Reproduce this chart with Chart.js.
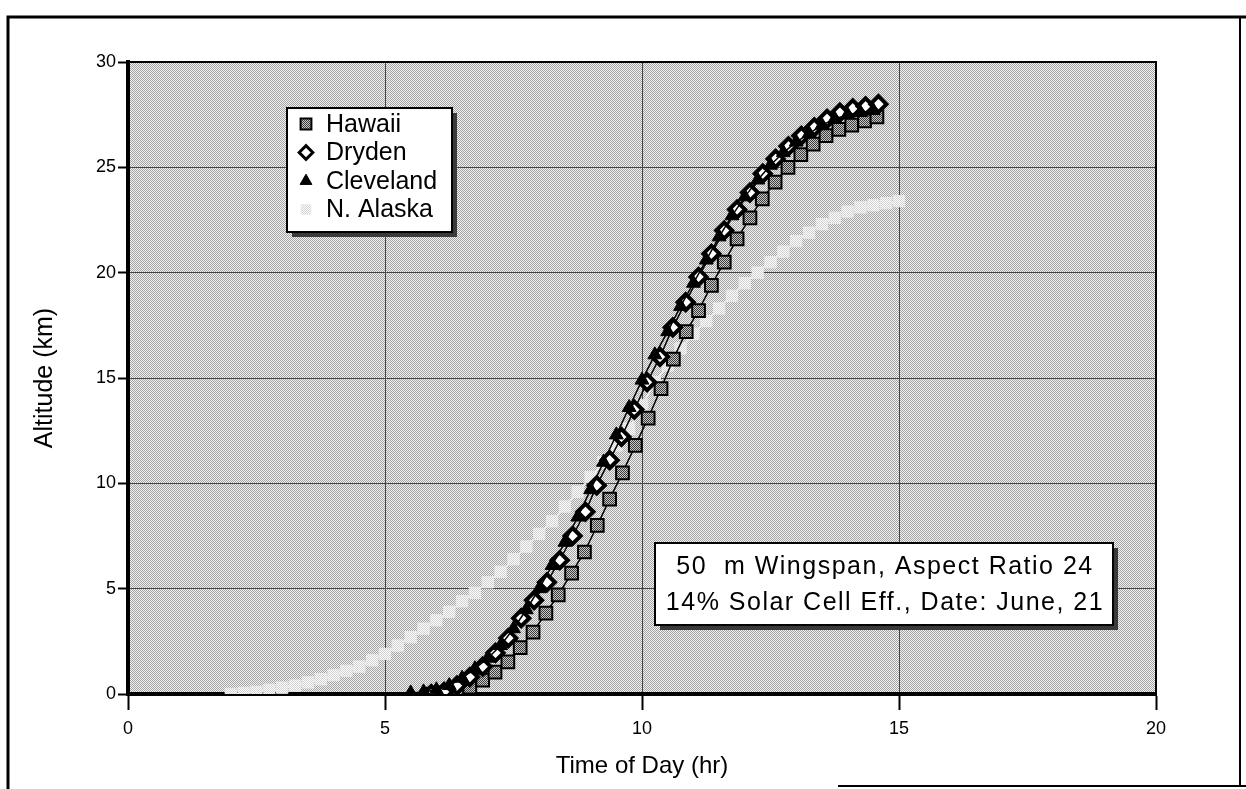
<!DOCTYPE html>
<html>
<head>
<meta charset="utf-8">
<script src="https://cdn.jsdelivr.net/npm/chart.js@4.4.1/dist/chart.umd.min.js"></script>
<style>
html, body { margin: 0; padding: 0; background: #fff; }
#wrap { width: 1246px; height: 789px; }
</style>
</head>
<body>
<div id="wrap"><canvas id="myChart" width="1246" height="789"></canvas></div>
<script>
// DATOS (hora del dia -> altitud en km)

const hawaiiHoras = [5.9, 6.15, 6.4, 6.65, 6.9, 7.14, 7.39, 7.63, 7.88, 8.13, 8.37, 8.63, 8.88, 9.13, 9.37, 9.62, 9.87, 10.12, 10.37, 10.61, 10.86, 11.1, 11.35, 11.6, 11.85, 12.1, 12.34, 12.59, 12.84, 13.09, 13.33, 13.58, 13.83, 14.08, 14.33, 14.57];
const hawaiiAltitud = [0, 0.05, 0.15, 0.33, 0.66, 1.04, 1.52, 2.2, 2.94, 3.84, 4.7, 5.74, 6.74, 8.0, 9.25, 10.5, 11.8, 13.1, 14.5, 15.9, 17.2, 18.2, 19.4, 20.5, 21.6, 22.6, 23.5, 24.3, 25.0, 25.6, 26.1, 26.5, 26.8, 27.0, 27.2, 27.4];

const drydenHoras = [5.9, 6.15, 6.4, 6.65, 6.9, 7.15, 7.4, 7.65, 7.9, 8.15, 8.4, 8.65, 8.9, 9.12, 9.37, 9.6, 9.85, 10.1, 10.35, 10.6, 10.85, 11.1, 11.35, 11.6, 11.85, 12.1, 12.35, 12.6, 12.85, 13.1, 13.35, 13.6, 13.85, 14.1, 14.35, 14.6];
const drydenAltitud = [0, 0.1, 0.4, 0.8, 1.3, 1.95, 2.65, 3.6, 4.45, 5.3, 6.35, 7.5, 8.65, 9.9, 11.1, 12.2, 13.5, 14.8, 16.0, 17.4, 18.6, 19.8, 20.9, 22.0, 23.0, 23.8, 24.7, 25.4, 26.0, 26.5, 26.9, 27.3, 27.6, 27.8, 27.9, 28.0];

const clevelandHoras = [5.5, 5.75, 6.0, 6.25, 6.5, 6.75, 7.0, 7.25, 7.5, 7.75, 8.0, 8.25, 8.5, 8.75, 9.0, 9.25, 9.5, 9.75, 10.0, 10.25, 10.5, 10.75, 11.0, 11.25, 11.5, 11.75, 12.0, 12.25, 12.5, 12.75, 13.0, 13.25, 13.5, 13.75, 14.0, 14.25, 14.5];
const clevelandAltitud = [0.05, 0.1, 0.2, 0.4, 0.75, 1.2, 1.7, 2.3, 3.1, 4.0, 5.0, 6.1, 7.2, 8.4, 9.7, 11.0, 12.3, 13.6, 14.9, 16.1, 17.2, 18.4, 19.5, 20.6, 21.7, 22.7, 23.6, 24.4, 25.1, 25.7, 26.2, 26.6, 27.0, 27.3, 27.5, 27.6, 27.7];

const alaskaHoras = [2.0, 2.25, 2.5, 2.75, 3.0, 3.25, 3.5, 3.75, 4.0, 4.25, 4.5, 4.75, 5.0, 5.25, 5.5, 5.75, 6.0, 6.25, 6.5, 6.75, 7.0, 7.25, 7.5, 7.75, 8.0, 8.25, 8.5, 8.75, 9.0, 9.25, 9.5, 9.75, 10.0, 10.25, 10.5, 10.75, 11.0, 11.25, 11.5, 11.75, 12.0, 12.25, 12.5, 12.75, 13.0, 13.25, 13.5, 13.75, 14.0, 14.25, 14.5, 14.75, 15.0];
const alaskaAltitud = [0, 0.05, 0.1, 0.2, 0.3, 0.4, 0.55, 0.7, 0.9, 1.1, 1.3, 1.6, 1.9, 2.3, 2.7, 3.1, 3.5, 3.9, 4.4, 4.8, 5.3, 5.8, 6.4, 7.0, 7.6, 8.2, 8.9, 9.6, 10.3, 11.0, 11.8, 12.6, 13.7, 14.8, 15.6, 16.4, 17.1, 17.7, 18.3, 18.9, 19.5, 20.0, 20.5, 21.0, 21.5, 21.9, 22.3, 22.6, 22.9, 23.1, 23.2, 23.3, 23.4];

const nombresSeries = ['Hawaii', 'Dryden', 'Cleveland', 'N. Alaska'];
const ticksX = [0, 5, 10, 15, 20];
const ticksY = [0, 5, 10, 15, 20, 25, 30];
const notaTexto = ['50  m Wingspan, Aspect Ratio 24', '14% Solar Cell Eff., Date: June, 21'];

const fuente = "'Liberation Sans', Arial, Helvetica, sans-serif";

function puntos(horas, alt) {
    return horas.map((h, i) => ({ x: h, y: alt[i] }));
}

// patron tramado del fondo
function crearTrama(claro, oscuro) {
    const c = document.createElement('canvas');
    c.width = 2; c.height = 2;
    const g = c.getContext('2d');
    g.fillStyle = claro; g.fillRect(0, 0, 2, 2);
    g.fillStyle = oscuro; g.fillRect(0, 0, 1, 1); g.fillRect(1, 1, 1, 1);
    return g.createPattern(c, 'repeat');
}

const ctx = document.getElementById('myChart').getContext('2d');
const tramaFondo = crearTrama('#f0f0f0', '#a4a4a4');
const tramaCuadro = crearTrama('#c8c8c8', '#3c3c3c');
const tramaAlaska = crearTrama('#ffffff', '#d0d0d0');

const estilos = [
    { pointStyle: 'rect', radius: 9, bg: tramaCuadro, border: '#000', bw: 2, line: '#000', order: 2 },
    { pointStyle: 'rectRot', radius: 8, bg: '#fff', border: '#000', bw: 4, line: '#000', order: 1 },
    { pointStyle: 'triangle', radius: 8, bg: '#000', border: '#000', bw: 1, line: '#000', order: 0 },
    { pointStyle: 'rect', radius: 8, bg: tramaAlaska, border: '#e8e8e8', bw: 1, line: '#f0f0f0', order: 3 }
];

const seriesData = [
    puntos(hawaiiHoras, hawaiiAltitud),
    puntos(drydenHoras, drydenAltitud),
    puntos(clevelandHoras, clevelandAltitud),
    puntos(alaskaHoras, alaskaAltitud)
];

const datasets = seriesData.map((d, i) => ({
    label: nombresSeries[i],
    data: d,
    showLine: true,
    borderColor: estilos[i].line,
    borderWidth: 1.5,
    pointStyle: estilos[i].pointStyle,
    pointRadius: estilos[i].radius,
    pointBackgroundColor: estilos[i].bg,
    pointBorderColor: estilos[i].border,
    pointBorderWidth: estilos[i].bw,
    order: estilos[i].order
}));

function caja(c, x, y, w, h) {
    c.fillStyle = '#3a3a3a';
    c.fillRect(x + 5, y + 5, w, h);
    c.fillStyle = '#fff';
    c.fillRect(x, y, w, h);
    c.strokeStyle = '#000';
    c.lineWidth = 2;
    c.strokeRect(x, y, w, h);
}

const decoracion = {
    id: 'decoracion',
    beforeDraw(chart) {
        const c = chart.ctx;
        const a = chart.chartArea;
        c.save();
        c.fillStyle = '#fff';
        c.fillRect(0, 0, chart.width, chart.height);
        c.fillStyle = tramaFondo;
        c.fillRect(a.left, a.top, a.right - a.left, a.bottom - a.top);
        c.restore();
    },
    afterDraw(chart) {
        const c = chart.ctx;
        const a = chart.chartArea;
        c.save();
        // borde superior y derecho del area
        c.strokeStyle = '#000';
        c.lineWidth = 2;
        c.beginPath();
        c.moveTo(a.left, a.top); c.lineTo(a.right, a.top); c.lineTo(a.right, a.bottom);
        c.stroke();
        // marco de la figura
        c.lineWidth = 3;
        c.beginPath();
        c.moveTo(8, 789); c.lineTo(8, 17); c.lineTo(1246, 17);
        c.stroke();
        c.lineWidth = 2;
        c.beginPath();
        c.moveTo(1240, 17); c.lineTo(1240, 786);
        c.moveTo(838, 786); c.lineTo(1246, 786);
        c.stroke();

        // leyenda
        caja(c, 287, 108, 165, 124);
        c.font = '25px ' + fuente;
        c.textBaseline = 'middle';
        c.textAlign = 'left';
        nombresSeries.forEach((n, i) => {
            const y = 124 + i * 28.5;
            const e = estilos[i];
            c.fillStyle = e.bg;
            c.strokeStyle = e.border;
            c.lineWidth = Math.min(e.bw, 3);
            Chart.helpers.drawPoint(c, { pointStyle: e.pointStyle, radius: e.radius * 0.85, rotation: 0, borderWidth: c.lineWidth }, 306, y);
            c.fillStyle = '#000';
            c.fillText(n, 326, y + 1);
        });

        // nota
        caja(c, 655, 543, 458, 82);
        c.fillStyle = '#000';
        c.font = '25px ' + fuente;
        c.textAlign = 'center';
        if ('letterSpacing' in c) c.letterSpacing = '1.5px';
        c.fillText(notaTexto[0], 885, 567);
        c.fillText(notaTexto[1], 885, 603);
        c.restore();
    }
};

const myChart = new Chart(ctx, {
    type: 'scatter',
    data: { datasets },
    plugins: [decoracion],
    options: {
        responsive: false,
        animation: false,
        devicePixelRatio: 1,
        layout: { padding: { top: 62, right: 90, left: 0, bottom: 0 } },
        plugins: { legend: { display: false }, tooltip: { enabled: false } },
        scales: {
            x: {
                type: 'linear',
                min: 0, max: 20,
                afterFit: (s) => { s.height = 95; },
                afterBuildTicks: (s) => { s.ticks = ticksX.map(v => ({ value: v })); },
                ticks: { color: '#000', padding: 8, font: { family: fuente, size: 18 } },
                grid: { color: '#444', lineWidth: 1, tickLength: 16, tickColor: '#000', tickWidth: 2 },
                border: { display: true, color: '#000', width: 4 },
                title: { display: true, text: 'Time of Day (hr)', color: '#000', font: { family: fuente, size: 24 }, padding: { top: 0, bottom: 8 } }
            },
            y: {
                type: 'linear',
                min: 0, max: 30,
                afterFit: (s) => { s.width = 128; },
                afterBuildTicks: (s) => { s.ticks = ticksY.map(v => ({ value: v })); },
                ticks: { color: '#000', padding: 2, font: { family: fuente, size: 18 } },
                grid: { color: '#444', lineWidth: 1, tickLength: 10, tickColor: '#000', tickWidth: 2 },
                border: { display: true, color: '#000', width: 4 },
                title: { display: true, text: 'Altitude (km)', color: '#000', font: { family: fuente, size: 25 }, padding: { top: 30, bottom: 0 } }
            }
        }
    }
});
</script>
</body>
</html>
